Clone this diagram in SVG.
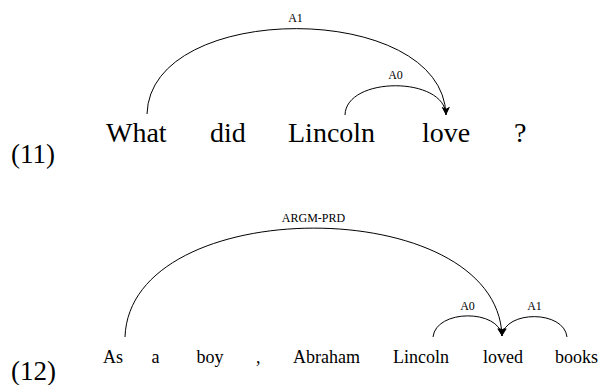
<svg xmlns="http://www.w3.org/2000/svg" width="600" height="385" viewBox="0 0 600 385">
<style>
text{font-family:"Liberation Serif","Times New Roman","DejaVu Serif",serif;fill:#000}
.big{font-size:28px}
.small{font-size:18px}
.num{font-size:27px}
.lbl{font-size:12px;text-anchor:middle}
.arc{fill:none;stroke:#000;stroke-width:1}
</style>
<defs>
<marker id="arr" markerUnits="userSpaceOnUse" markerWidth="10" markerHeight="10" refX="8" refY="5" orient="auto">
<path d="M0,1 L8,5 L0,9 L2,5 Z" fill="#000"/>
</marker>
</defs>
<text class="num" x="11" y="163" font-family="Liberation Serif, serif">(11)</text>
<text class="num" x="11" y="380" font-family="Liberation Serif, serif">(12)</text>
<g id="s1-what"><text class="big" x="106" y="142" font-family="Liberation Serif, serif">What</text></g>
<g id="s1-did"><text class="big" x="210" y="142" font-family="Liberation Serif, serif">did</text></g>
<g id="s1-lincoln"><text class="big" x="288" y="142" font-family="Liberation Serif, serif">Lincoln</text></g>
<g id="s1-love"><text class="big" x="422" y="142" font-family="Liberation Serif, serif">love</text></g>
<g id="s1-q"><text class="big" x="514" y="142" font-family="Liberation Serif, serif">?</text></g>
<g id="s2-as"><text class="small" x="103" y="363" font-family="Liberation Serif, serif">As</text></g>
<g id="s2-a"><text class="small" x="151.5" y="363" font-family="Liberation Serif, serif">a</text></g>
<g id="s2-boy"><text class="small" x="196.5" y="363" font-family="Liberation Serif, serif">boy</text></g>
<g id="s2-comma"><text class="small" x="256" y="363" font-family="Liberation Serif, serif">,</text></g>
<g id="s2-abraham"><text class="small" x="293" y="363" font-family="Liberation Serif, serif">Abraham</text></g>
<g id="s2-lincoln"><text class="small" x="393" y="363" font-family="Liberation Serif, serif">Lincoln</text></g>
<g id="s2-loved"><text class="small" x="483" y="363" font-family="Liberation Serif, serif">loved</text></g>
<g id="s2-books"><text class="small" x="555" y="363" font-family="Liberation Serif, serif">books</text></g>
<g id="connectors">
<path class="arc" d="M147,114 C150,0 443,0 446,115" marker-end="url(#arr)"/>
<text class="lbl" x="295.5" y="21.5">A1</text>
<path class="arc" d="M345,115 C346,76 445,76 446,115" marker-end="url(#arr)"/>
<text class="lbl" x="395.5" y="78.5">A0</text>
<path class="arc" d="M125,337 C130,192 497,192 502,336" marker-end="url(#arr)"/>
<text class="lbl" x="313.5" y="221.5">ARGM-PRD</text>
<path class="arc" d="M433,337 C436,309 499,309 502,336" marker-end="url(#arr)"/>
<text class="lbl" x="467.5" y="310">A0</text>
<path class="arc" d="M567,337 C564,310 505,310 502,336" marker-end="url(#arr)"/>
<text class="lbl" x="534.5" y="310">A1</text>
</g>
</svg>
